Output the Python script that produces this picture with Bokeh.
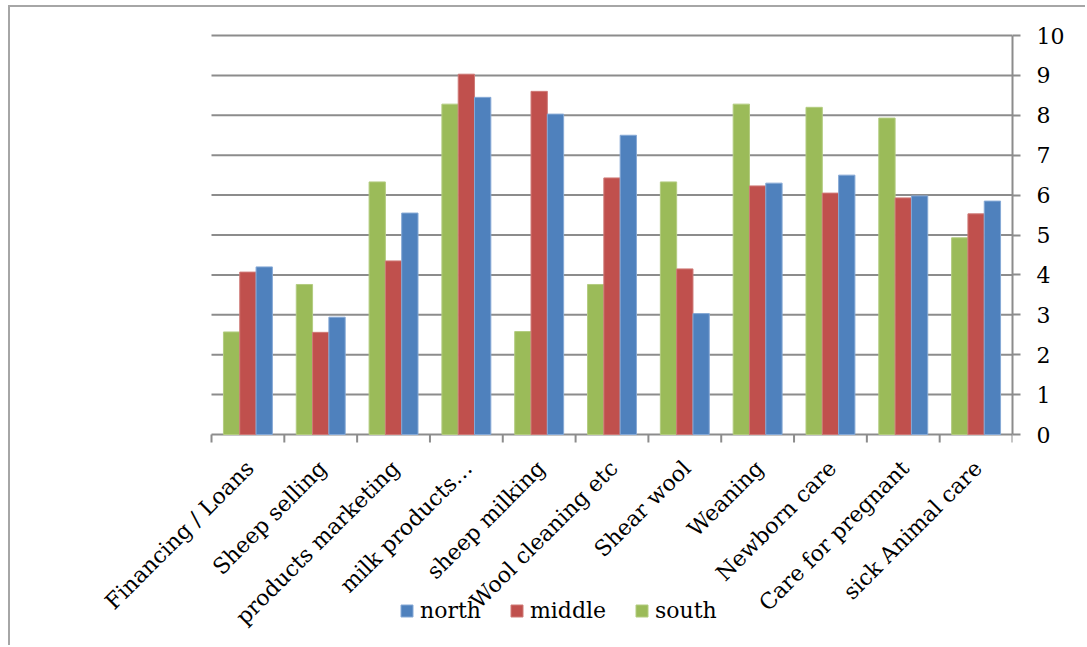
import math
from bokeh.plotting import figure
from bokeh.models import (ColumnDataSource, Range1d, FixedTicker, Legend, LegendItem)
from bokeh.embed import file_html
from bokeh.resources import INLINE

categories = ["Financing / Loans", "Sheep selling", "products marketing",
              "milk products\u2026", "sheep milking", "Wool cleaning etc",
              "Shear wool", "Weaning", "Newborn care", "Care for pregnant",
              "sick Animal care"]
south = [2.57, 3.76, 6.33, 8.28, 2.58, 3.76, 6.33, 8.28, 8.2, 7.93, 4.93]
middle = [4.07, 2.56, 4.35, 9.03, 8.6, 6.43, 4.15, 6.23, 6.05, 5.93, 5.53]
north = [4.2, 2.94, 5.55, 8.45, 8.03, 7.5, 3.03, 6.3, 6.5, 5.98, 5.85]
y_ticks = list(range(0, 11))

FONT = "DejaVu Serif"
GREEN = "#9BBB59"
RED = "#C0504D"
BLUE = "#4F81BD"
GREEN_EDGE = "#b3cc80"
RED_EDGE = "#cf7a77"
BLUE_EDGE = "#86a9d6"
GRID = "#8c8c8c"

n = len(categories)
centers = [i + 0.5 for i in range(n)]
bounds = list(range(0, n + 1))
bw = 0.224

# layout (pixels inside the figure canvas, canvas starts at x=10, y=7)
W, H = 1077, 640
plot_left, plot_right = 201, 1002       # where category 0 / n sit
zero_y, ten_y = 427, 28                 # where value 0 / 10 sit
px_x = (plot_right - plot_left) / n
px_y = (zero_y - ten_y) / 10
frame_left = 0
frame_top = ten_y - 3
x_start = -(plot_left - frame_left) / px_x
y_end = 10 + (ten_y - frame_top) / px_y
y_start = -(H - zero_y) / px_y

src = ColumnDataSource(dict(
    xs=[c - bw for c in centers], xm=centers, xn=[c + bw for c in centers],
    south=south, middle=middle, north=north))

p = figure(width=W, height=H, output_backend="svg", toolbar_location=None,
           x_range=Range1d(x_start, n), y_range=Range1d(y_start, y_end),
           x_axis_location=None, y_axis_location="right",
           min_border_left=frame_left, min_border_right=W - plot_right,
           min_border_top=frame_top, min_border_bottom=0,
           styles={"border-left": "2px solid #a6a6a6", "border-top": "2px solid #a6a6a6",
                   "margin-left": "8px", "margin-top": "5px"})
p.outline_line_color = None
p.background_fill_color = "white"
p.border_fill_color = "white"
p.xgrid.grid_line_color = None
p.ygrid.grid_line_color = None

# horizontal gridlines spanning only the category area
p.segment(x0=[0] * len(y_ticks), y0=y_ticks, x1=[n] * len(y_ticks), y1=y_ticks,
          line_color=GRID, line_width=2)

# category tick marks below the zero line
tick_len = 8 / px_y
p.segment(x0=bounds, y0=[0] * len(bounds), x1=bounds, y1=[-tick_len] * len(bounds),
          line_color=GRID, line_width=2)

rs = p.vbar(x="xs", top="south", width=bw, source=src, fill_color=GREEN,
            line_color=GREEN_EDGE, line_width=1)
rm = p.vbar(x="xm", top="middle", width=bw, source=src, fill_color=RED,
            line_color=RED_EDGE, line_width=1)
rn = p.vbar(x="xn", top="north", width=bw, source=src, fill_color=BLUE,
            line_color=BLUE_EDGE, line_width=1)

# category labels
p.text(x=centers, y=[0] * n, text=categories, angle=math.pi / 4,
       text_align="right", text_baseline="middle", x_offset=2, y_offset=30,
       text_font={"value": FONT}, text_font_size={"value": "22px"}, text_color="black")

# y axis (right)
ya = p.yaxis[0]
ya.ticker = FixedTicker(ticks=y_ticks)
ya.bounds = (0, 10)
ya.axis_line_color = GRID
ya.axis_line_width = 2
ya.major_tick_line_color = GRID
ya.major_tick_line_width = 2
ya.major_tick_out = 8
ya.major_tick_in = 0
ya.minor_tick_line_color = None
ya.major_label_standoff = 16
ya.major_label_text_font = FONT
ya.major_label_text_font_size = "22px"
ya.major_label_text_color = "black"

legend = Legend(items=[LegendItem(label="north", renderers=[rn]),
                       LegendItem(label="middle", renderers=[rm]),
                       LegendItem(label="south", renderers=[rs])],
                location=(399 - 10 - frame_left, 24), orientation="horizontal",
                padding=0, margin=0, spacing=28, label_standoff=6,
                glyph_width=15, glyph_height=15,
                label_text_font=FONT, label_text_font_size="22px",
                label_text_color="black",
                border_line_color=None, background_fill_alpha=0)
p.add_layout(legend, "center")

open("out.html", "w").write(file_html(p, INLINE))
